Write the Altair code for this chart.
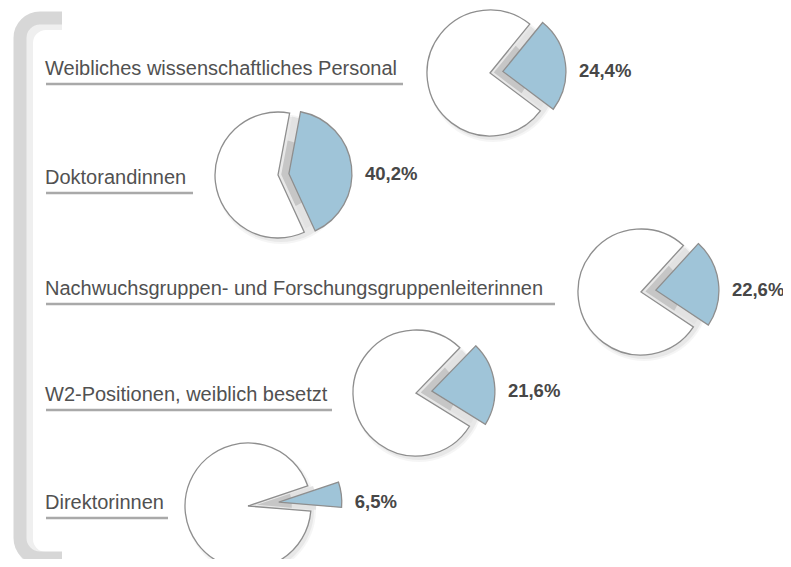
import math
import altair as alt
import pandas as pd

# ---- data ----
labels = [
    "Weibliches wissenschaftliches Personal",
    "Doktorandinnen",
    "Nachwuchsgruppen- und Forschungsgruppenleiterinnen",
    "W2-Positionen, weiblich besetzt",
    "Direktorinnen",
]
shares = [24.4, 40.2, 22.6, 21.6, 6.5]
share_text = ["24,4%", "40,2%", "22,6%", "21,6%", "6,5%"]

# ---- layout (page pixel positions) ----
PIE_X = [490, 278, 641, 416, 248]
PIE_Y = [73, 175, 292, 393, 506]
EXPLODE = [13, 11, 15, 16, 31]
RULE_Y = [84, 193, 304, 410, 518]
RULE_END = [403, 193, 555, 332, 168]
TEXT_X = 45
RULE_X = 46
R = 63
MID_DEG = 83

W, H = 775, 551

df = pd.DataFrame({
    "label": labels, "value": shares, "pct": share_text,
    "cx": PIE_X, "cy": PIE_Y, "ex": EXPLODE, "uy": RULE_Y, "ux2": RULE_END,
})

xs = alt.Scale(domain=[8, 8 + W], nice=False, zero=False)
ys = alt.Scale(domain=[8, 8 + H], nice=False, zero=False, reverse=True)

mid = math.radians(MID_DEG)
base = alt.Chart(df).transform_calculate(
    a0=f"{mid} - datum.value / 100 * PI",
    a1=f"{mid} + datum.value / 100 * PI",
).transform_calculate(
    w1="datum.a0 + 2 * PI",
    bx=f"datum.cx + datum.ex * {math.sin(mid)}",
    by=f"datum.cy - datum.ex * {math.cos(mid)}",
    gx=f"datum.cx + 0.3 * datum.ex * {math.sin(mid)}",
    gy=f"datum.cy - 0.3 * datum.ex * {math.cos(mid)}",
    shx="datum.cx + 3",
    shy="datum.cy + 4",
    tx=f"{TEXT_X}",
    rx=f"{RULE_X}",
    ty="datum.uy - 9",
).transform_calculate(
    px=f"datum.bx + {R} + 13",
)

def X(f):
    return alt.X(f"{f}:Q", scale=xs, axis=None)

def Y(f):
    return alt.Y(f"{f}:Q", scale=ys, axis=None)

# bracket on the left (right side of the frame lies far outside the view)
brk = pd.DataFrame({"x": [20], "x2": [1600], "y": [18], "y2": [558]})
bracket_shadow = alt.Chart(brk).mark_rect(
    filled=False, stroke="#efefef", strokeWidth=18, cornerRadius=22
).encode(
    x=alt.X("xs:Q", scale=xs, axis=None), x2="xs2:Q",
    y=alt.Y("ys:Q", scale=ys, axis=None), y2="ys2:Q",
).transform_calculate(xs="datum.x + 4", xs2="datum.x2 + 4", ys="datum.y + 3", ys2="datum.y2 + 3")
bracket = alt.Chart(brk).mark_rect(
    filled=False, stroke="#d7d7d7", strokeWidth=13, cornerRadius=20
).encode(
    x=alt.X("x:Q", scale=xs, axis=None), x2="x2:Q",
    y=alt.Y("y:Q", scale=ys, axis=None), y2="y2:Q",
)
cover = pd.DataFrame({"x": [62, 62], "x2": [1700, 1700], "y": [-20, 540], "y2": [40, 600]})
bracket_cover = alt.Chart(cover).mark_rect(fill="white").encode(
    x=alt.X("x:Q", scale=xs, axis=None), x2="x2:Q",
    y=alt.Y("y:Q", scale=ys, axis=None), y2="y2:Q",
)

underline = base.mark_rule(color="#a9a9a9", strokeWidth=2.5).encode(
    x=X("rx"), x2="ux2:Q", y=Y("uy"),
)
label_text = base.mark_text(
    align="left", baseline="alphabetic", font="Liberation Sans",
    fontSize=20, color="#515151",
).encode(x=X("tx"), y=Y("ty"), text="label:N")

soft_shadow_outer = base.mark_arc(radius=R + 2, fill="#000000", opacity=0.04).encode(
    x=X("shx"), y=Y("shy"),
    theta=alt.value(0), theta2=alt.value(2 * math.pi),
)
soft_shadow = base.mark_arc(radius=R, fill="#000000", opacity=0.05).encode(
    x=X("shx"), y=Y("shy"),
    theta=alt.value(0), theta2=alt.value(2 * math.pi),
)
grey_wedge_light = base.mark_arc(radius=R - 4, fill="#e2e2e2").encode(
    x=X("gx"), y=Y("gy"),
    theta=alt.Theta("a0:Q", scale=None, stack=False), theta2="a1:Q",
)
grey_wedge = base.mark_arc(radius=R * 0.55, fill="#c6c6c6").encode(
    x=X("gx"), y=Y("gy"),
    theta=alt.Theta("a0:Q", scale=None, stack=False), theta2="a1:Q",
)
white_slice = base.mark_arc(radius=R, fill="#ffffff", stroke="#8e8e8e", strokeWidth=1.3).encode(
    x=X("cx"), y=Y("cy"),
    theta=alt.Theta("a1:Q", scale=None, stack=False), theta2="w1:Q",
)
blue_slice = base.mark_arc(radius=R, fill="#9fc4d8", stroke="#8e8e8e", strokeWidth=1.3).encode(
    x=X("bx"), y=Y("by"),
    theta=alt.Theta("a0:Q", scale=None, stack=False), theta2="a1:Q",
)
pct_text = base.mark_text(
    align="left", baseline="middle", font="Liberation Sans",
    fontSize=18.5, fontWeight="bold", color="#474747",
).encode(x=X("px"), y=Y("by"), text="pct:N")

chart = alt.layer(
    bracket_shadow, bracket, bracket_cover,
    underline, label_text,
    soft_shadow_outer, soft_shadow, grey_wedge_light, grey_wedge,
    white_slice, blue_slice, pct_text,
).properties(
    width=W, height=H, padding=0, autosize=alt.AutoSizeParams(type="none"),
).configure_view(stroke=None)

chart.save("out.html", embed_options={"renderer": "svg", "actions": False})
